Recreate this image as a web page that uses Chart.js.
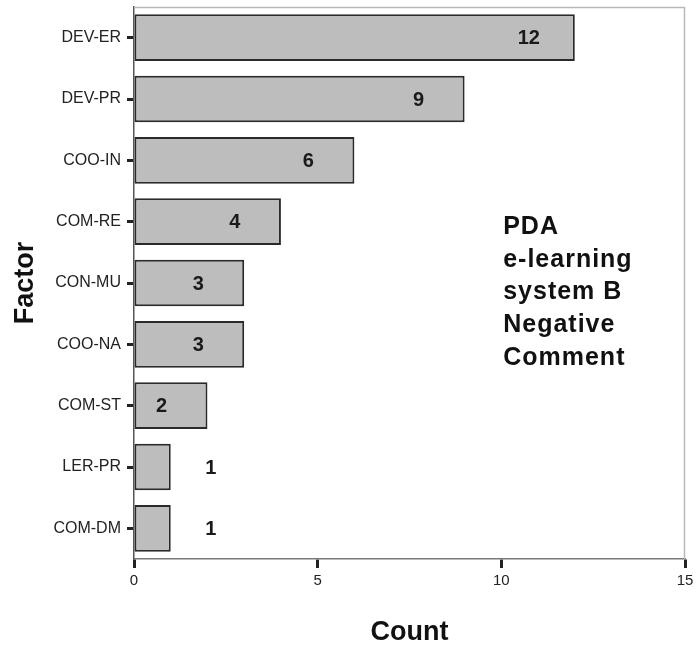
<!DOCTYPE html>
<html>
<head>
<meta charset="utf-8">
<script src="https://cdn.jsdelivr.net/npm/chart.js@4/dist/chart.umd.min.js"></script>
<style>
  html, body { margin: 0; padding: 0; background: #ffffff; }
  #wrap { width: 697px; height: 649px; position: relative; }
</style>
</head>
<body>
<div id="wrap"><canvas id="c" width="697" height="649"></canvas></div>
<script>
const categories = ['DEV-ER', 'DEV-PR', 'COO-IN', 'COM-RE', 'CON-MU', 'COO-NA', 'COM-ST', 'LER-PR', 'COM-DM'];
const counts = [12, 9, 6, 4, 3, 3, 2, 1, 1];
const xTicks = [0, 5, 10, 15];
const noteLines = ['PDA', 'e-learning', 'system B', 'Negative', 'Comment'];

const FONT = '"Liberation Sans", Arial, Helvetica, sans-serif';

const framePlugin = {
  id: 'frame',
  afterDatasetsDraw(chart) {
    const { ctx, chartArea: a } = chart;
    ctx.save();
    ctx.strokeStyle = '#b8b8b8';
    ctx.lineWidth = 1.5;
    ctx.beginPath();
    ctx.moveTo(a.left, a.top + 0.5);
    ctx.lineTo(a.right - 0.5, a.top + 0.5);
    ctx.lineTo(a.right - 0.5, a.bottom);
    ctx.stroke();
    ctx.restore();
  }
};

const valueLabelPlugin = {
  id: 'valueLabels',
  afterDatasetsDraw(chart) {
    const { ctx } = chart;
    const meta = chart.getDatasetMeta(0);
    const xs = chart.scales.x;
    ctx.save();
    ctx.font = 'bold 20px ' + FONT;
    ctx.fillStyle = '#1a1a1a';
    ctx.textAlign = 'center';
    ctx.textBaseline = 'middle';
    meta.data.forEach((bar, i) => {
      const v = counts[i];
      const end = xs.getPixelForValue(v);
      const x = v > 1 ? end - 46 : end + 40;
      ctx.fillText(String(v), x, bar.y + 1);
    });
    ctx.restore();
  }
};

const notePlugin = {
  id: 'note',
  afterDraw(chart) {
    const { ctx } = chart;
    const xs = chart.scales.x;
    const x = xs.getPixelForValue(10.05);
    ctx.save();
    ctx.font = 'bold 25px ' + FONT;
    try { ctx.letterSpacing = '1px'; } catch (e) {}
    ctx.fillStyle = '#111';
    ctx.textAlign = 'left';
    ctx.textBaseline = 'middle';
    noteLines.forEach((t, i) => ctx.fillText(t, x, 227 + i * 32.7));
    ctx.restore();
  }
};

new Chart(document.getElementById('c'), {
  type: 'bar',
  data: {
    labels: categories,
    datasets: [{
      data: counts,
      backgroundColor: '#bdbdbd',
      borderColor: '#2a2a2a',
      borderWidth: 2,
      borderSkipped: false,
      barPercentage: 0.76,
      categoryPercentage: 1.0
    }]
  },
  options: {
    indexAxis: 'y',
    responsive: false,
    animation: false,
    devicePixelRatio: 1,
    layout: { padding: { top: 7, right: 12, bottom: 0, left: 0 } },
    plugins: { legend: { display: false }, tooltip: { enabled: false } },
    scales: {
      x: {
        min: 0, max: 15,
        afterBuildTicks(s) { s.ticks = xTicks.map(v => ({ value: v })); },
        afterFit(s) { s.height = 90; s.paddingLeft = 0; s.paddingRight = 0; },
        grid: { display: true, drawOnChartArea: false, tickLength: 9, tickWidth: 3, tickColor: '#222' },
        border: { display: true, color: '#7a7a7a', width: 1.5 },
        ticks: { font: { family: FONT, size: 15 }, color: '#222', padding: 4, maxRotation: 0 },
        title: { display: true, text: 'Count', font: { family: FONT, size: 27, weight: 'bold' }, color: '#111', padding: { top: 0, bottom: 0 } }
      },
      y: {
        afterFit(s) { s.width = 134; s.paddingTop = 0; s.paddingBottom = 0; },
        grid: { display: true, offset: false, drawOnChartArea: false, tickLength: 7, tickWidth: 3, tickColor: '#222' },
        border: { display: true, color: '#555', width: 1.5 },
        ticks: { font: { family: FONT, size: 16 }, color: '#222', padding: 6 },
        title: { display: true, text: 'Factor', font: { family: FONT, size: 27, weight: 'bold' }, color: '#111', padding: { top: 9, bottom: 0 } }
      }
    }
  },
  plugins: [framePlugin, valueLabelPlugin, notePlugin]
});
</script>
</body>
</html>
